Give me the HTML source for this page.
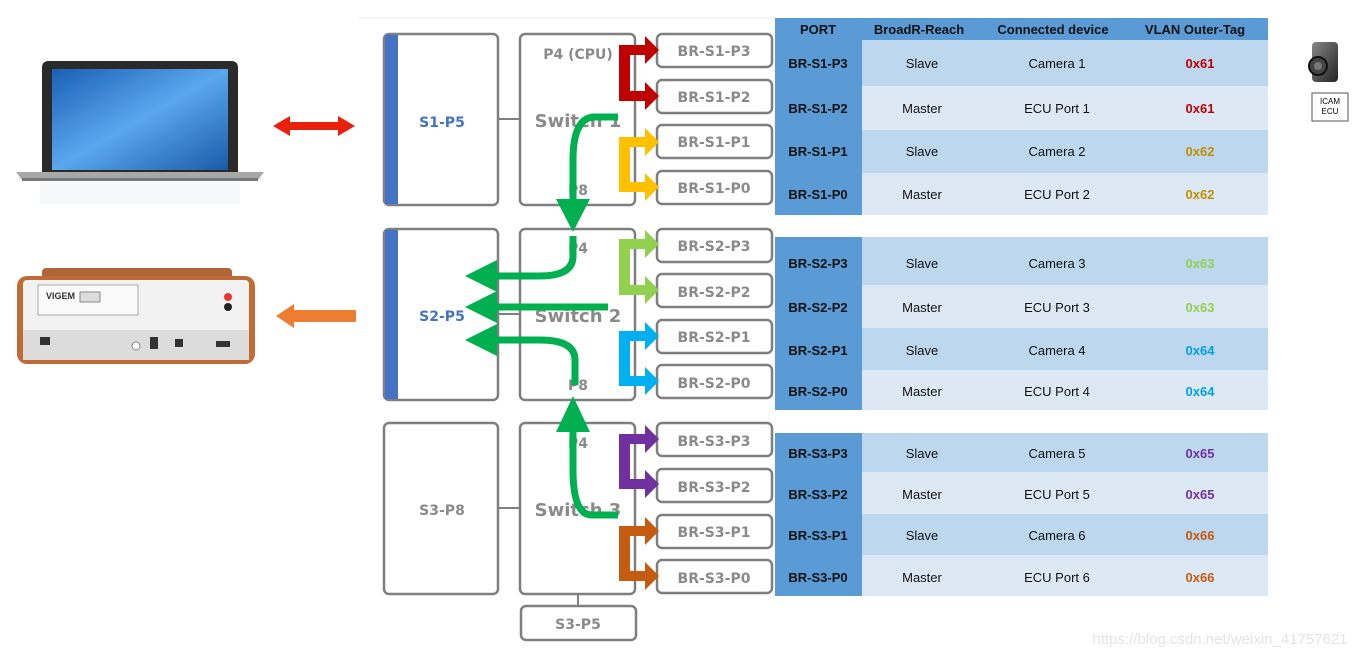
<!DOCTYPE html>
<html><head><meta charset="utf-8"><style>
body{margin:0;background:#fff;width:1363px;height:658px;overflow:hidden}
svg{display:block;font-family:Verdana,"DejaVu Sans",sans-serif}
.t{font-family:"Liberation Sans",sans-serif;font-size:13px;text-anchor:middle;fill:#111}
.b{font-weight:bold}
.bx{fill:#fff;stroke:#7f7f7f;stroke-width:2.5}
.bl{font-family:"DejaVu Sans",sans-serif;font-weight:bold;font-size:14px;fill:#8a8a8a;text-anchor:middle}
</style></head><body>
<svg width="1363" height="658" viewBox="0 0 1363 658">
<defs>
<linearGradient id="scr" x1="0" y1="0" x2="1" y2="1"><stop offset="0" stop-color="#1a5fb4"/><stop offset=".5" stop-color="#5aa7ee"/><stop offset="1" stop-color="#1a5aa8"/></linearGradient>
<linearGradient id="cam" x1="0" y1="0" x2="1" y2="1"><stop offset="0" stop-color="#888"/><stop offset="1" stop-color="#222"/></linearGradient>
</defs>
<line x1="358" y1="18" x2="775" y2="18" stroke="#e8e8e8"/>
<!-- laptop -->
<rect x="42" y="61" width="196" height="120" rx="6" fill="#2a2a2a"/>
<rect x="52" y="69" width="176" height="101" fill="url(#scr)"/>
<path d="M16 172 H264 L258 180 H22 Z" fill="#a8a8a8"/>
<rect x="22" y="178" width="236" height="3" fill="#777"/>
<rect x="40" y="182" width="200" height="22" fill="#f7f8fa"/>
<!-- red double arrow -->
<path d="M273 126 L290 116 V122 H338 V116 L355 126 L338 136 V130 H290 V136 Z" fill="#e8200c"/>
<!-- vigem -->
<rect x="42" y="268" width="190" height="12" rx="4" fill="#b0643a"/>
<rect x="17" y="276" width="238" height="88" rx="10" fill="#c06a35"/>
<rect x="23" y="280" width="226" height="80" rx="4" fill="#f2f2f2"/>
<rect x="23" y="330" width="226" height="30" fill="#dcdcdc"/>
<rect x="38" y="285" width="100" height="30" fill="#fafafa" stroke="#aaa"/>
<text x="46" y="299" font-size="9" font-family="Liberation Sans" font-weight="bold" fill="#333">VIGEM</text>
<rect x="80" y="292" width="20" height="10" fill="#ddd" stroke="#888"/>
<circle cx="228" cy="297" r="4" fill="#e33"/><circle cx="228" cy="307" r="4" fill="#222"/>
<rect x="40" y="337" width="10" height="8" fill="#333"/><rect x="150" y="337" width="8" height="12" fill="#333"/><rect x="175" y="339" width="8" height="8" fill="#333"/><rect x="216" y="341" width="14" height="6" fill="#333"/>
<circle cx="136" cy="346" r="4" fill="#fff" stroke="#888"/>
<!-- orange arrow -->
<path d="M276 316 L294 304 V310 H356 V322 H294 V328 Z" fill="#ed7d31"/>
<!-- left boxes -->
<rect class="bx" x="384" y="34" width="114" height="171" rx="5"/><rect x="385" y="35" width="13" height="169" fill="#4472c4"/>
<rect class="bx" x="384" y="229" width="114" height="171" rx="5"/><rect x="385" y="230" width="13" height="169" fill="#4472c4"/>
<rect class="bx" x="384" y="423" width="114" height="171" rx="5"/>
<text class="bl" x="442" y="127" style="fill:#4472c4">S1-P5</text>
<text class="bl" x="442" y="321" style="fill:#4472c4">S2-P5</text>
<text class="bl" x="442" y="515">S3-P8</text>
<line x1="498" y1="119" x2="520" y2="119" stroke="#7f7f7f" stroke-width="2"/>
<line x1="498" y1="314" x2="520" y2="314" stroke="#7f7f7f" stroke-width="2"/>
<line x1="498" y1="508" x2="520" y2="508" stroke="#7f7f7f" stroke-width="2"/>
<!-- switches -->
<rect class="bx" x="520" y="34" width="115" height="171" rx="5"/>
<rect class="bx" x="520" y="229" width="115" height="171" rx="5"/>
<rect class="bx" x="520" y="423" width="115" height="171" rx="5"/>
<line x1="578" y1="594" x2="578" y2="606" stroke="#7f7f7f" stroke-width="2"/>
<rect class="bx" x="521" y="606" width="115" height="34" rx="5"/>
<text class="bl" x="578" y="629">S3-P5</text>
<text class="bl" x="578" y="59">P4 (CPU)</text>
<text class="bl" x="578" y="127" style="font-size:18px">Switch 1</text>
<text class="bl" x="578" y="195">P8</text>
<text class="bl" x="578" y="253">P4</text>
<text class="bl" x="578" y="322" style="font-size:18px">Switch 2</text>
<text class="bl" x="578" y="390">P8</text>
<text class="bl" x="578" y="448">P4</text>
<text class="bl" x="578" y="516" style="font-size:18px">Switch 3</text>
<!-- BR boxes -->
<g>
<rect class="bx" x="657" y="34" width="115" height="33" rx="5"/><text class="bl" x="714" y="56">BR-S1-P3</text>
<rect class="bx" x="657" y="80" width="115" height="33" rx="5"/><text class="bl" x="714" y="102">BR-S1-P2</text>
<rect class="bx" x="657" y="125" width="115" height="33" rx="5"/><text class="bl" x="714" y="147">BR-S1-P1</text>
<rect class="bx" x="657" y="171" width="115" height="33" rx="5"/><text class="bl" x="714" y="193">BR-S1-P0</text>
<rect class="bx" x="657" y="229" width="115" height="33" rx="5"/><text class="bl" x="714" y="251">BR-S2-P3</text>
<rect class="bx" x="657" y="274" width="115" height="33" rx="5"/><text class="bl" x="714" y="297">BR-S2-P2</text>
<rect class="bx" x="657" y="320" width="115" height="33" rx="5"/><text class="bl" x="714" y="342">BR-S2-P1</text>
<rect class="bx" x="657" y="365" width="115" height="33" rx="5"/><text class="bl" x="714" y="388">BR-S2-P0</text>
<rect class="bx" x="657" y="423" width="115" height="33" rx="5"/><text class="bl" x="714" y="446">BR-S3-P3</text>
<rect class="bx" x="657" y="469" width="115" height="33" rx="5"/><text class="bl" x="714" y="492">BR-S3-P2</text>
<rect class="bx" x="657" y="515" width="115" height="33" rx="5"/><text class="bl" x="714" y="537">BR-S3-P1</text>
<rect class="bx" x="657" y="560" width="115" height="33" rx="5"/><text class="bl" x="714" y="583">BR-S3-P0</text>
</g>
<!-- bracket arrows -->
<g>
<path d="M619 45 H645 V36 L659 50 L645 64 V55 H630 V91 H645 V82 L659 96 L645 110 V101 H619 Z" fill="#c00000"/>
<path d="M619 137 H645 V128 L659 142 L645 156 V147 H630 V182 H645 V173 L659 187 L645 201 V192 H619 Z" fill="#ffc000"/>
<path d="M619 239 H645 V230 L659 244 L645 258 V249 H630 V285 H645 V276 L659 290 L645 304 V295 H619 Z" fill="#92d050"/>
<path d="M619 331 H645 V322 L659 336 L645 350 V341 H630 V376 H645 V367 L659 381 L645 395 V386 H619 Z" fill="#00b0f0"/>
<path d="M619 434 H645 V425 L659 439 L645 453 V444 H630 V479 H645 V470 L659 484 L645 498 V489 H619 Z" fill="#7030a0"/>
<path d="M619 526 H645 V517 L659 531 L645 545 V536 H630 V571 H645 V562 L659 576 L645 590 V581 H619 Z" fill="#c55a11"/>
</g>
<!-- green arrows -->
<g fill="none" stroke="#00b050" stroke-width="7">
<path d="M618 117 H595 Q573 117 573 160 V200"/>
<path d="M573 236 V256 Q573 276 540 276 H495"/>
<path d="M608 307 H495"/>
<path d="M575 385 V360 Q575 340 540 340 H495"/>
<path d="M618 515 H592 Q573 515 573 470 V430"/>
</g>
<g fill="#00b050">
<path d="M556 199 H590 L573 232 Z"/>
<path d="M497 260 V292 L465 276 Z"/>
<path d="M497 291 V323 L465 307 Z"/>
<path d="M497 324 V356 L465 340 Z"/>
<path d="M556 432 H590 L573 396 Z"/>
</g>
<!-- table -->
<rect x="775" y="18" width="493" height="22" fill="#5b9bd5"/>
<g class="t b"><text x="818" y="34">PORT</text><text x="919" y="34">BroadR-Reach</text><text x="1053" y="34">Connected device</text><text x="1195" y="34">VLAN Outer-Tag</text></g>
<g>
<rect x="775" y="40" width="493" height="46" fill="#bdd7ee"/><rect x="775" y="86" width="493" height="44" fill="#dde8f5"/>
<rect x="775" y="130" width="493" height="43" fill="#bdd7ee"/><rect x="775" y="173" width="493" height="42" fill="#dde8f5"/>
<rect x="775" y="237" width="493" height="48" fill="#bdd7ee"/><rect x="775" y="285" width="493" height="43" fill="#dde8f5"/>
<rect x="775" y="328" width="493" height="42" fill="#bdd7ee"/><rect x="775" y="370" width="493" height="40" fill="#dde8f5"/>
<rect x="775" y="433" width="493" height="39" fill="#bdd7ee"/><rect x="775" y="472" width="493" height="42" fill="#dde8f5"/>
<rect x="775" y="514" width="493" height="41" fill="#bdd7ee"/><rect x="775" y="555" width="493" height="41" fill="#dde8f5"/>
<rect x="775" y="40" width="87" height="175" fill="#5b9bd5"/>
<rect x="775" y="237" width="87" height="173" fill="#5b9bd5"/>
<rect x="775" y="433" width="87" height="163" fill="#5b9bd5"/>
</g>
<g class="t">
<text class="b" x="818" y="68">BR-S1-P3</text><text x="922" y="68">Slave</text><text x="1057" y="68">Camera 1</text><text class="b" x="1200" y="68" style="fill:#c00000">0x61</text>
<text class="b" x="818" y="113">BR-S1-P2</text><text x="922" y="113">Master</text><text x="1057" y="113">ECU Port 1</text><text class="b" x="1200" y="113" style="fill:#c00000">0x61</text>
<text class="b" x="818" y="156">BR-S1-P1</text><text x="922" y="156">Slave</text><text x="1057" y="156">Camera 2</text><text class="b" x="1200" y="156" style="fill:#bf9000">0x62</text>
<text class="b" x="818" y="199">BR-S1-P0</text><text x="922" y="199">Master</text><text x="1057" y="199">ECU Port 2</text><text class="b" x="1200" y="199" style="fill:#bf9000">0x62</text>
<text class="b" x="818" y="268">BR-S2-P3</text><text x="922" y="268">Slave</text><text x="1057" y="268">Camera 3</text><text class="b" x="1200" y="268" style="fill:#92d050">0x63</text>
<text class="b" x="818" y="312">BR-S2-P2</text><text x="922" y="312">Master</text><text x="1057" y="312">ECU Port 3</text><text class="b" x="1200" y="312" style="fill:#92d050">0x63</text>
<text class="b" x="818" y="355">BR-S2-P1</text><text x="922" y="355">Slave</text><text x="1057" y="355">Camera 4</text><text class="b" x="1200" y="355" style="fill:#00a0e0">0x64</text>
<text class="b" x="818" y="396">BR-S2-P0</text><text x="922" y="396">Master</text><text x="1057" y="396">ECU Port 4</text><text class="b" x="1200" y="396" style="fill:#00a0e0">0x64</text>
<text class="b" x="818" y="458">BR-S3-P3</text><text x="922" y="458">Slave</text><text x="1057" y="458">Camera 5</text><text class="b" x="1200" y="458" style="fill:#7030a0">0x65</text>
<text class="b" x="818" y="499">BR-S3-P2</text><text x="922" y="499">Master</text><text x="1057" y="499">ECU Port 5</text><text class="b" x="1200" y="499" style="fill:#7030a0">0x65</text>
<text class="b" x="818" y="540">BR-S3-P1</text><text x="922" y="540">Slave</text><text x="1057" y="540">Camera 6</text><text class="b" x="1200" y="540" style="fill:#c55a11">0x66</text>
<text class="b" x="818" y="582">BR-S3-P0</text><text x="922" y="582">Master</text><text x="1057" y="582">ECU Port 6</text><text class="b" x="1200" y="582" style="fill:#c55a11">0x66</text>
</g>
<!-- camera icon -->
<rect x="1312" y="42" width="26" height="40" rx="4" fill="url(#cam)"/>
<circle cx="1318" cy="66" r="9" fill="#444" stroke="#111" stroke-width="2"/>
<circle cx="1318" cy="66" r="4" fill="#777"/>
<rect x="1312" y="93" width="36" height="28" fill="#fff" stroke="#555"/>
<text x="1330" y="104" font-size="8" font-family="Liberation Sans" text-anchor="middle">ICAM</text>
<text x="1330" y="114" font-size="8" font-family="Liberation Sans" text-anchor="middle">ECU</text>
<text x="1220" y="644" font-size="15" font-family="Liberation Sans" text-anchor="middle" fill="#e4e4e4">https://blog.csdn.net/weixin_41757621</text>
</svg>
</body></html>
